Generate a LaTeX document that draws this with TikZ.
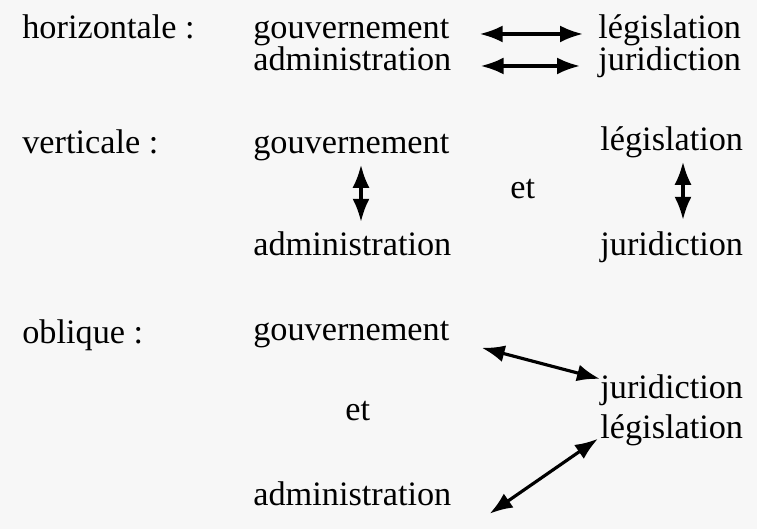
\documentclass[tikz,border=0pt]{standalone}
\usepackage{fontspec}
\setmainfont{Liberation Serif}
\usetikzlibrary{arrows.meta}

\begin{document}
\begin{tikzpicture}[x=0.02cm, y=-0.02cm,
    mot/.style={anchor=base west, inner sep=0pt, font=\fontsize{19.5}{23}\selectfont},
    fleche/.style={{Latex[length=0.46cm,width=0.34cm]}-{Latex[length=0.46cm,width=0.34cm]}, line width=1.8pt}]
    %%%%% START %%%%%
    \fill[black!3] (0,0) rectangle (757,529);
    \useasboundingbox (0,0) rectangle (757,529);

    % horizontale
    \node[mot] (horiz) at (22,38) {horizontale :};
    \node[mot] (gouvH) at (253,38) {gouvernement};
    \node[mot] (legH) at (598,38) {législation};
    \node[mot] (adminH) at (253,70) {administration};
    \node[mot] (jurH) at (598,70) {juridiction};
    \draw[fleche] ([shift={(30,0)}]gouvH.mid east) -- ([shift={(-15,0)}]legH.mid west);
    \draw[fleche] ([shift={(29,0)}]adminH.mid east) -- ([shift={(-18,0)}]jurH.mid west);

    % verticale
    \node[mot] (vert) at (22,153) {verticale :};
    \node[mot] (gouvV) at (253,153) {gouvernement};
    \node[mot] (legV) at (600,150) {législation};
    \node[mot] (etV) at (510,198) {et};
    \node[mot] (adminV) at (253,255) {administration};
    \node[mot] (jurV) at (600,255) {juridiction};
    \draw[fleche] ([shift={(108,4)}]gouvV.south west) -- ([shift={(108,-9)}]adminV.north west);
    \draw[fleche] ([shift={(83,4)}]legV.south west) -- ([shift={(83,-11)}]jurV.north west);

    % oblique
    \node[mot] (obl) at (22,343) {oblique :};
    \node[mot] (gouvO) at (253,340) {gouvernement};
    \node[mot] (jurO) at (600,398) {juridiction};
    \node[mot] (legO) at (600,438) {législation};
    \node[mot] (etO) at (345,420) {et};
    \node[mot] (adminO) at (253,505) {administration};
    \draw[fleche] ([shift={(32,0)}]gouvO.south east) -- ([shift={(0,5)}]jurO.north west);
    \draw[fleche] ([shift={(38,8)}]adminO.south east) -- ([shift={(-2,-7)}]legO.south west);
    %%%%% END %%%%%
\end{tikzpicture}
\end{document}
